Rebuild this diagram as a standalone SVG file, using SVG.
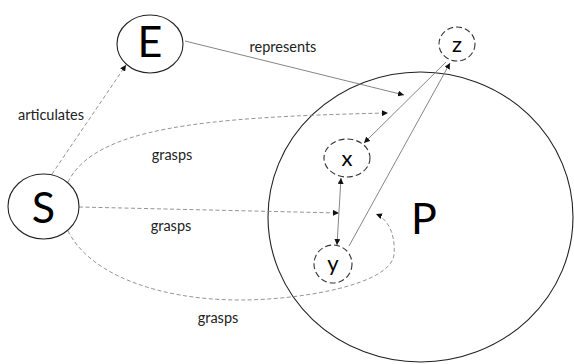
<svg xmlns="http://www.w3.org/2000/svg" width="574" height="364" viewBox="0 0 574 364">
<defs>
<marker id="arr" viewBox="0 0 10 10" refX="10" refY="5" markerWidth="6" markerHeight="6" markerUnits="userSpaceOnUse" orient="auto-start-reverse">
<path d="M0,0 L10,5 L0,10 z" fill="#111"/>
</marker>
<style>
.node{fill:#fff;stroke:#222;stroke-width:1.1}
.dnode{fill:#fff;stroke:#333;stroke-width:1.1;stroke-dasharray:6 3}
.big{font-family:Lato,"Open Sans","Liberation Sans",sans-serif;font-size:43px;fill:#000;text-anchor:middle}
.small{font-family:Lato,"Open Sans","Liberation Sans",sans-serif;font-size:22px;fill:#000;text-anchor:middle}
.lbl{font-family:Lato,"Open Sans","Liberation Sans",sans-serif;font-size:14.5px;fill:#222;text-anchor:middle}
.solid{fill:none;stroke:#777;stroke-width:0.9}
.dash{fill:none;stroke:#888;stroke-width:0.9;stroke-dasharray:4 2.5}
</style>
</defs>
<rect width="574" height="364" fill="#fff"/>
<g id="P"><ellipse cx="420.5" cy="217" rx="152.5" ry="145" class="node" fill="none"/><text x="424" y="234" class="big">P</text></g>
<g id="connectors">
<path class="dash" d="M52,174 L126,65" marker-end="url(#arr)"/>
<path class="solid" d="M185,41 L404,95" marker-end="url(#arr)"/>
<path class="dash" d="M68,182 C95,128 200,117 388,113" marker-end="url(#arr)"/>
<path class="dash" d="M79,207 L339,213" marker-end="url(#arr)"/>
<path class="dash" d="M68,231 C90,275 160,300 240,300 C300,300 390,285 394,255 C396,232 386,218 376,214" marker-end="url(#arr)"/>
<path class="solid" d="M446,62 L364,143" marker-end="url(#arr)"/>
<path class="solid" d="M349,246 L450,63" marker-end="url(#arr)"/>
<path class="solid" d="M341,178 L337,245" marker-start="url(#arr)" marker-end="url(#arr)"/>
</g>
<g id="labels">
<text x="51" y="120" class="lbl">articulates</text>
<text x="283" y="52" class="lbl">represents</text>
<text x="172" y="160" class="lbl">grasps</text>
<text x="171" y="231" class="lbl">grasps</text>
<text x="218" y="323" class="lbl">grasps</text>
</g>
<g id="S"><ellipse cx="43.5" cy="206.5" rx="35.5" ry="32.5" class="node"/><text x="43.5" y="223" class="big">S</text></g>
<g id="E"><ellipse cx="150" cy="44" rx="33" ry="29" class="node"/><text x="150" y="57" class="big">E</text></g>
<g id="z"><ellipse cx="457" cy="44" rx="18" ry="17" class="dnode"/><text x="457" y="52" class="small">z</text></g>
<g id="x"><ellipse cx="347" cy="158" rx="23" ry="19" class="dnode"/><text x="347" y="166" class="small">x</text></g>
<g id="y"><ellipse cx="333" cy="264" rx="19" ry="19" class="dnode"/><text x="333" y="271" class="small">y</text></g>
</svg>
